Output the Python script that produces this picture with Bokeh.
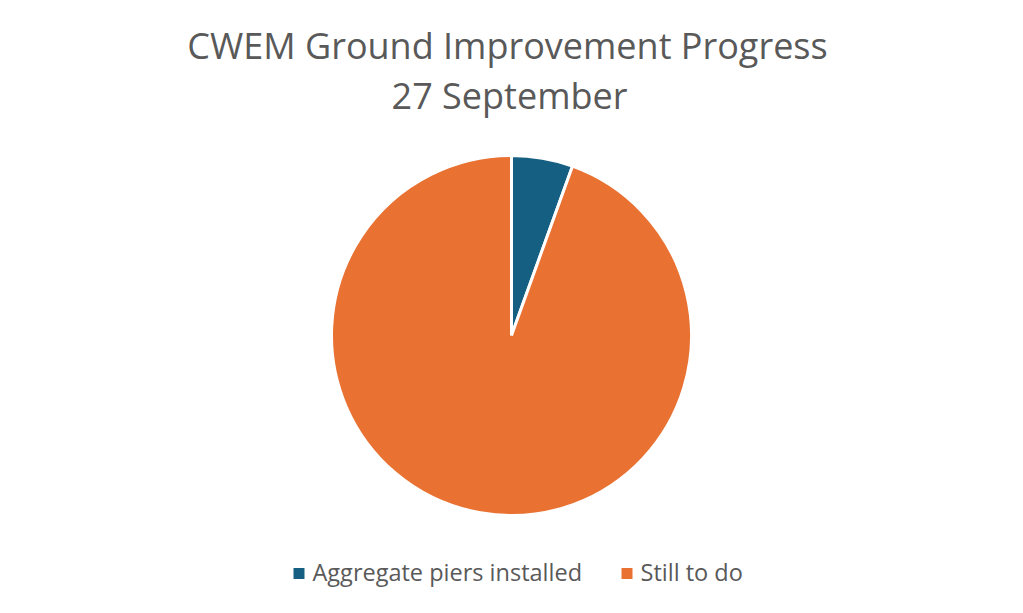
import math
from bokeh.plotting import figure
from bokeh.models import Range1d, ColumnDataSource
from bokeh.core.properties import value
from bokeh.embed import file_html
from bokeh.resources import INLINE

title_lines = ["CWEM Ground Improvement Progress", "27 September"]
categories = ["Aggregate piers installed", "Still to do"]
values = [5.5, 94.5]
colors = ["#156082", "#E97132"]

W, H = 1007, 597
p = figure(width=W, height=H, output_backend="svg", toolbar_location=None,
           x_range=Range1d(0, W), y_range=Range1d(0, H))
p.axis.visible = False
p.grid.visible = False
p.outline_line_color = None
p.min_border = 0
p.background_fill_color = "white"

def Y(img_y):
    return H - img_y

def X(img_x):
    return img_x

total = sum(values)
starts, ends = [], []
a = math.pi / 2
for v in values:
    starts.append(a)
    a -= 2 * math.pi * v / total
    ends.append(a)

src = ColumnDataSource(dict(start=starts, end=ends, color=colors, cat=categories))
p.wedge(x=X(511), y=Y(335), radius=180, start_angle="start", end_angle="end",
        direction="clock", fill_color="color", line_color="white", line_width=3,
        source=src)

font = value("Open Sans")
p.text(x=[X(507), X(509)], y=[Y(45), Y(95)], text=title_lines,
       text_font=font, text_font_size="36px", text_color="#595959",
       text_align="center", text_baseline="alphabetic")

# legend
sq_x = [X(298.5), X(626.5)]
tx_x = [X(312), X(640)]
p.scatter(x=sq_x, y=[Y(573)] * 2, marker="square", size=11, fill_color=colors,
          line_color=None)
p.text(x=tx_x, y=[Y(571)] * 2, text=categories, text_font=font,
       text_font_size="23.5px", text_color="#595959", text_align="left",
       text_baseline="alphabetic")

open("out.html", "w").write(file_html(p, INLINE))
